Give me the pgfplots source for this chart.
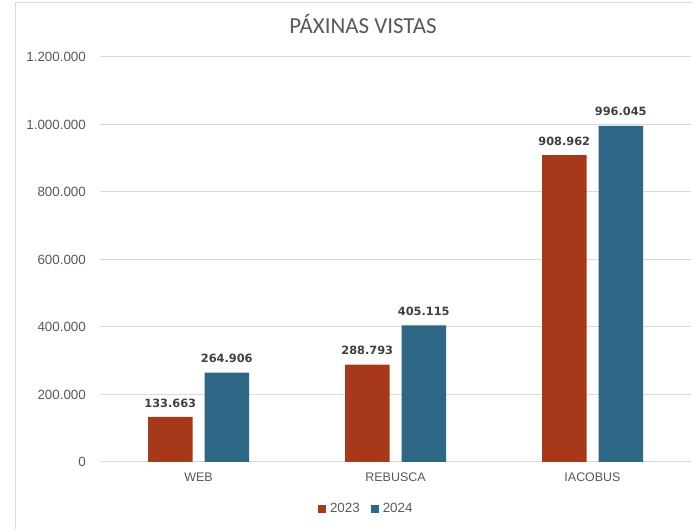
\documentclass[border=0pt]{standalone}
\usepackage{pgfplots}
\pgfplotsset{compat=1.18}
\usepackage{fontspec}
\setmainfont{Liberation Sans}
\newfontfamily\titlefont{Carlito}
\newfontfamily\labelfont{DejaVu Sans}
\definecolor{c23}{HTML}{A8381A}
\definecolor{c24}{HTML}{2E6785}
\definecolor{txt}{HTML}{595959}
\definecolor{grd}{HTML}{D9D9D9}
\definecolor{lbl}{HTML}{404040}
\begin{document}
\begin{tikzpicture}[x=1bp,y=1bp]
\useasboundingbox (0,0) rectangle (692,529);
\fill[white] (0,0) rectangle (692,529);
\draw[grd, line width=1bp] (15,-2) -- (15,526) -- (694,526);
\node[font=\titlefont\fontsize{23}{27}\selectfont, text=txt, anchor=base] at (363,495) {PÁXINAS VISTAS};
\begin{axis}[
  at={(100bp,67bp)}, anchor=south west, scale only axis,
  width=591bp, height=405bp,
  ybar=12bp, bar width=44.5bp,
  xmin=-0.5, xmax=2.5, ymin=0, ymax=1200000,
  enlarge x limits=false,
  xtick={0,1,2}, xticklabels={WEB,REBUSCA,IACOBUS},
  ytick={0,200000,400000,600000,800000,1000000,1200000},
  scaled y ticks=false,
  major tick length=0pt,
  axis line style={draw=none},
  ymajorgrids, grid style={color=grd, line width=1bp},
  yticklabel style={/pgf/number format/.cd, fixed, precision=0, 1000 sep={.}, assume math mode=true,
    /tikz/.cd, font=\fontsize{13.4}{16}\selectfont, text=txt, anchor=east, inner sep=0pt, xshift=-14bp},
  xticklabel style={font=\fontsize{12.5}{15}\selectfont, text=txt, anchor=north, inner sep=0pt, yshift=-11bp},
  nodes near coords={\pgfmathprintnumber[fixed,precision=0,1000 sep={.},assume math mode=true]{\pgfplotspointmeta}},
  every node near coord/.append style={font=\labelfont\bfseries\fontsize{11.4}{13}\selectfont, text=lbl, anchor=south, inner sep=0pt, yshift=9.5bp},
  clip=false,
  legend style={at={(0.4505,-0.116)}, anchor=center, draw=none, fill=none, legend columns=2,
    font=\fontsize{13.4}{16}\selectfont, text=txt,
    nodes={inner sep=2bp},
    /tikz/every odd column/.append style={column sep=2bp},
    /tikz/every even column/.append style={column sep=9bp}},
  legend image code/.code={\path[#1,draw=none] (0bp,-4bp) rectangle (8bp,4bp);},
]
\addplot[fill=c23, draw=none] coordinates {(0,133663) (1,288793) (2,908962)};
\addplot[fill=c24, draw=none] coordinates {(0,264906) (1,405115) (2,996045)};
\legend{2023,2024}
\end{axis}
\end{tikzpicture}
\end{document}
